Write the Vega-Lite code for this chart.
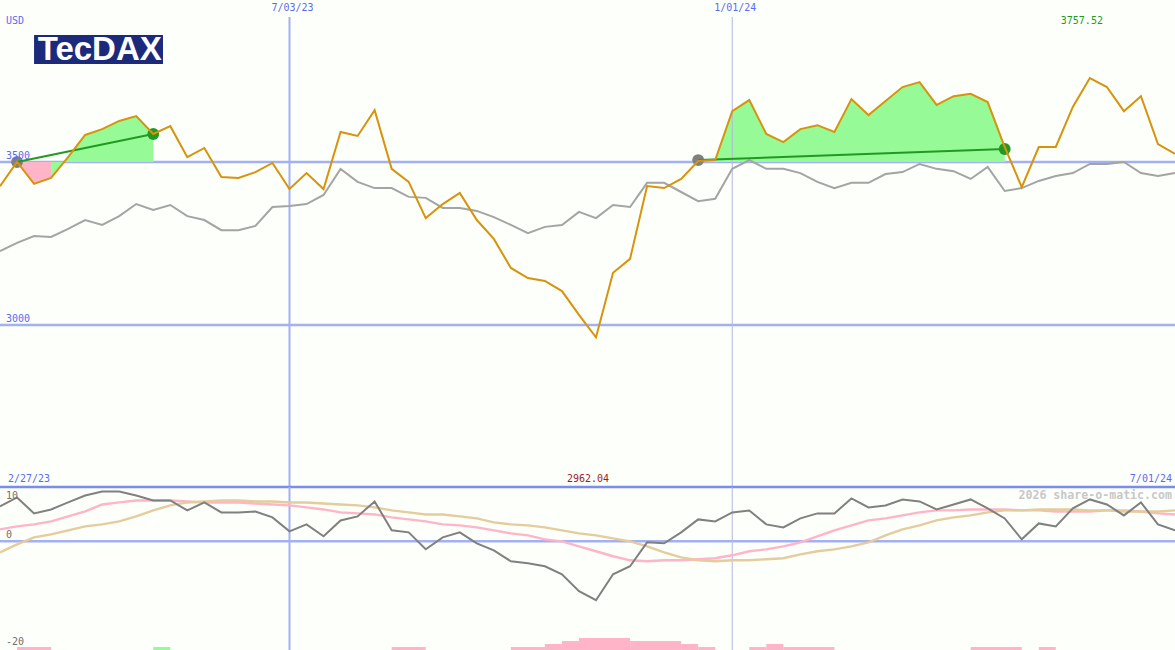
{"$schema":"https://vega.github.io/schema/vega-lite/v6.json","padding":{"left":-2,"top":0,"right":0,"bottom":0},"background":"#fdfffb","spacing":0,"bounds":"flush","config":{"view":{"stroke":null},"font":"DejaVu Sans Mono"},
"datasets":{"weekly":[
{"date":"2023-03-06","close":3426,"benchmark":3227,"macd":6.42,"signal":2.2,"average":-2.02},
{"date":"2023-03-13","close":3500,"benchmark":3252,"macd":8.07,"signal":2.75,"average":-0.55},
{"date":"2023-03-20","close":3433,"benchmark":3273,"macd":5.14,"signal":3.12,"average":0.73},
{"date":"2023-03-27","close":3451,"benchmark":3270,"macd":5.87,"signal":3.67,"average":1.28},
{"date":"2023-04-03","close":3515,"benchmark":3295,"macd":7.16,"signal":4.59,"average":2.02},
{"date":"2023-04-10","close":3583,"benchmark":3322,"macd":8.44,"signal":5.5,"average":2.75},
{"date":"2023-04-17","close":3601,"benchmark":3307,"macd":9.17,"signal":6.79,"average":3.12},
{"date":"2023-04-24","close":3626,"benchmark":3334,"macd":9.17,"signal":7.16,"average":3.67},
{"date":"2023-05-01","close":3641,"benchmark":3371,"macd":8.44,"signal":7.52,"average":4.59},
{"date":"2023-05-08","close":3586,"benchmark":3353,"macd":7.52,"signal":7.52,"average":5.69},
{"date":"2023-05-15","close":3610,"benchmark":3368,"macd":7.52,"signal":7.52,"average":6.61},
{"date":"2023-05-22","close":3515,"benchmark":3334,"macd":5.69,"signal":7.34,"average":7.16},
{"date":"2023-05-29","close":3543,"benchmark":3322,"macd":7.16,"signal":7.16,"average":7.34},
{"date":"2023-06-05","close":3454,"benchmark":3291,"macd":5.32,"signal":7.16,"average":7.52},
{"date":"2023-06-12","close":3451,"benchmark":3291,"macd":5.32,"signal":7.16,"average":7.52},
{"date":"2023-06-19","close":3469,"benchmark":3304,"macd":5.5,"signal":6.97,"average":7.34},
{"date":"2023-06-26","close":3497,"benchmark":3362,"macd":4.4,"signal":6.79,"average":7.34},
{"date":"2023-07-03","close":3417,"benchmark":3365,"macd":1.83,"signal":6.61,"average":7.16},
{"date":"2023-07-10","close":3466,"benchmark":3371,"macd":3.12,"signal":6.24,"average":7.16},
{"date":"2023-07-17","close":3417,"benchmark":3399,"macd":0.92,"signal":5.87,"average":6.97},
{"date":"2023-07-24","close":3592,"benchmark":3479,"macd":3.85,"signal":5.32,"average":6.79},
{"date":"2023-07-31","close":3580,"benchmark":3439,"macd":4.59,"signal":5.14,"average":6.61},
{"date":"2023-08-07","close":3659,"benchmark":3420,"macd":7.34,"signal":4.95,"average":6.24},
{"date":"2023-08-14","close":3479,"benchmark":3420,"macd":2.02,"signal":4.4,"average":5.69},
{"date":"2023-08-21","close":3439,"benchmark":3393,"macd":1.65,"signal":4.04,"average":5.32},
{"date":"2023-08-28","close":3328,"benchmark":3390,"macd":-1.47,"signal":3.67,"average":4.95},
{"date":"2023-09-04","close":3371,"benchmark":3359,"macd":0.73,"signal":3.12,"average":4.95},
{"date":"2023-09-11","close":3405,"benchmark":3359,"macd":1.65,"signal":2.94,"average":4.59},
{"date":"2023-09-18","close":3322,"benchmark":3350,"macd":-0.37,"signal":2.57,"average":4.22},
{"date":"2023-09-25","close":3264,"benchmark":3331,"macd":-1.65,"signal":2.02,"average":3.49},
{"date":"2023-10-02","close":3175,"benchmark":3307,"macd":-3.67,"signal":1.47,"average":3.12},
{"date":"2023-10-09","close":3144,"benchmark":3282,"macd":-4.04,"signal":1.1,"average":2.94},
{"date":"2023-10-16","close":3135,"benchmark":3301,"macd":-4.59,"signal":0.37,"average":2.57},
{"date":"2023-10-23","close":3104,"benchmark":3307,"macd":-6.06,"signal":0,"average":2.02},
{"date":"2023-10-30","close":3031,"benchmark":3347,"macd":-9.17,"signal":-0.92,"average":1.47},
{"date":"2023-11-06","close":2962.04,"benchmark":3328,"macd":-10.83,"signal":-1.83,"average":1.1},
{"date":"2023-11-13","close":3160,"benchmark":3368,"macd":-6.06,"signal":-2.75,"average":0.55},
{"date":"2023-11-20","close":3203,"benchmark":3362,"macd":-4.59,"signal":-3.49,"average":0},
{"date":"2023-11-27","close":3426,"benchmark":3436,"macd":-0.18,"signal":-3.67,"average":-0.92},
{"date":"2023-12-04","close":3420,"benchmark":3436,"macd":-0.37,"signal":-3.49,"average":-2.02},
{"date":"2023-12-11","close":3448,"benchmark":3408,"macd":1.65,"signal":-3.49,"average":-2.94},
{"date":"2023-12-18","close":3503,"benchmark":3380,"macd":4.04,"signal":-3.3,"average":-3.49},
{"date":"2023-12-25","close":3506,"benchmark":3387,"macd":3.67,"signal":-3.12,"average":-3.67},
{"date":"2024-01-01","close":3656,"benchmark":3479,"macd":5.32,"signal":-2.57,"average":-3.49},
{"date":"2024-01-08","close":3690,"benchmark":3506,"macd":5.69,"signal":-1.83,"average":-3.49},
{"date":"2024-01-15","close":3586,"benchmark":3479,"macd":3.12,"signal":-1.47,"average":-3.3},
{"date":"2024-01-22","close":3561,"benchmark":3479,"macd":2.57,"signal":-0.92,"average":-3.12},
{"date":"2024-01-29","close":3601,"benchmark":3466,"macd":4.22,"signal":-0.18,"average":-2.39},
{"date":"2024-02-05","close":3613,"benchmark":3439,"macd":5.14,"signal":0.92,"average":-1.83},
{"date":"2024-02-12","close":3592,"benchmark":3420,"macd":5.14,"signal":2.02,"average":-1.47},
{"date":"2024-02-19","close":3693,"benchmark":3436,"macd":7.89,"signal":2.94,"average":-0.92},
{"date":"2024-02-26","close":3644,"benchmark":3436,"macd":6.24,"signal":3.85,"average":-0.18},
{"date":"2024-03-04","close":3687,"benchmark":3463,"macd":6.61,"signal":4.22,"average":1.1},
{"date":"2024-03-11","close":3730,"benchmark":3469,"macd":7.71,"signal":4.77,"average":2.2},
{"date":"2024-03-18","close":3745,"benchmark":3494,"macd":7.34,"signal":5.32,"average":2.94},
{"date":"2024-03-25","close":3675,"benchmark":3479,"macd":5.87,"signal":5.69,"average":3.85},
{"date":"2024-04-01","close":3702,"benchmark":3472,"macd":6.79,"signal":5.69,"average":4.4},
{"date":"2024-04-08","close":3709,"benchmark":3448,"macd":7.71,"signal":5.87,"average":4.77},
{"date":"2024-04-15","close":3684,"benchmark":3485,"macd":6.06,"signal":5.87,"average":5.32},
{"date":"2024-04-22","close":3546,"benchmark":3411,"macd":4.22,"signal":5.87,"average":5.69},
{"date":"2024-04-29","close":3423,"benchmark":3420,"macd":0.37,"signal":5.69,"average":5.69},
{"date":"2024-05-06","close":3546,"benchmark":3442,"macd":3.3,"signal":5.69,"average":5.87},
{"date":"2024-05-13","close":3546,"benchmark":3457,"macd":2.75,"signal":5.5,"average":5.87},
{"date":"2024-05-20","close":3669,"benchmark":3466,"macd":6.06,"signal":5.5,"average":5.87},
{"date":"2024-05-27","close":3757.52,"benchmark":3494,"macd":7.71,"signal":5.5,"average":5.69},
{"date":"2024-06-03","close":3730,"benchmark":3494,"macd":6.79,"signal":5.69,"average":5.69},
{"date":"2024-06-10","close":3656,"benchmark":3500,"macd":4.77,"signal":5.69,"average":5.5},
{"date":"2024-06-17","close":3702,"benchmark":3466,"macd":7.16,"signal":5.5,"average":5.5},
{"date":"2024-06-24","close":3555,"benchmark":3457,"macd":3.12,"signal":5.14,"average":5.5},
{"date":"2024-07-01","close":3525,"benchmark":3466,"macd":2.02,"signal":4.95,"average":5.69}
],
"fills":[
{"date":"2023-03-13","close":3500,"kind":"loss","run":"a"},
{"date":"2023-03-20","close":3433,"kind":"loss","run":"a"},
{"date":"2023-03-27","close":3451,"kind":"loss","run":"a"},
{"date":"2023-03-27","close":3451,"kind":"gain","run":"b"},
{"date":"2023-04-03","close":3515,"kind":"gain","run":"b"},
{"date":"2023-04-10","close":3583,"kind":"gain","run":"b"},
{"date":"2023-04-17","close":3601,"kind":"gain","run":"b"},
{"date":"2023-04-24","close":3626,"kind":"gain","run":"b"},
{"date":"2023-05-01","close":3641,"kind":"gain","run":"b"},
{"date":"2023-05-08","close":3586,"kind":"gain","run":"b"},
{"date":"2023-12-18","close":3503,"kind":"gain","run":"c"},
{"date":"2023-12-25","close":3506,"kind":"gain","run":"c"},
{"date":"2024-01-01","close":3656,"kind":"gain","run":"c"},
{"date":"2024-01-08","close":3690,"kind":"gain","run":"c"},
{"date":"2024-01-15","close":3586,"kind":"gain","run":"c"},
{"date":"2024-01-22","close":3561,"kind":"gain","run":"c"},
{"date":"2024-01-29","close":3601,"kind":"gain","run":"c"},
{"date":"2024-02-05","close":3613,"kind":"gain","run":"c"},
{"date":"2024-02-12","close":3592,"kind":"gain","run":"c"},
{"date":"2024-02-19","close":3693,"kind":"gain","run":"c"},
{"date":"2024-02-26","close":3644,"kind":"gain","run":"c"},
{"date":"2024-03-04","close":3687,"kind":"gain","run":"c"},
{"date":"2024-03-11","close":3730,"kind":"gain","run":"c"},
{"date":"2024-03-18","close":3745,"kind":"gain","run":"c"},
{"date":"2024-03-25","close":3675,"kind":"gain","run":"c"},
{"date":"2024-04-01","close":3702,"kind":"gain","run":"c"},
{"date":"2024-04-08","close":3709,"kind":"gain","run":"c"},
{"date":"2024-04-15","close":3684,"kind":"gain","run":"c"},
{"date":"2024-04-22","close":3546,"kind":"gain","run":"c"}
],
"trades":[
{"date":"2023-03-13","price":3500,"trade":"t1","leg":"entry"},
{"date":"2023-05-08","price":3586,"trade":"t1","leg":"exit"},
{"date":"2023-12-18","price":3506,"trade":"t2","leg":"entry"},
{"date":"2024-04-22","price":3540,"trade":"t2","leg":"exit"}
],
"hist":[
{"start":"2023-03-13","end":"2023-03-27","level":-19.45,"kind":"loss"},
{"start":"2023-05-08","end":"2023-05-15","level":-19.45,"kind":"gain"},
{"start":"2023-08-14","end":"2023-08-28","level":-19.45,"kind":"loss"},
{"start":"2023-10-02","end":"2023-10-16","level":-19.45,"kind":"loss"},
{"start":"2023-10-16","end":"2023-10-23","level":-18.9,"kind":"loss"},
{"start":"2023-10-23","end":"2023-10-30","level":-18.35,"kind":"loss"},
{"start":"2023-10-30","end":"2023-11-20","level":-17.8,"kind":"loss"},
{"start":"2023-11-20","end":"2023-12-11","level":-18.35,"kind":"loss"},
{"start":"2023-12-11","end":"2023-12-18","level":-18.9,"kind":"loss"},
{"start":"2023-12-18","end":"2023-12-25","level":-19.45,"kind":"loss"},
{"start":"2024-01-08","end":"2024-01-15","level":-19.45,"kind":"loss"},
{"start":"2024-01-15","end":"2024-01-22","level":-18.9,"kind":"loss"},
{"start":"2024-01-22","end":"2024-02-12","level":-19.45,"kind":"loss"},
{"start":"2024-04-08","end":"2024-04-29","level":-19.45,"kind":"loss"},
{"start":"2024-05-06","end":"2024-05-13","level":-19.45,"kind":"loss"}
],
"verticals":[{"date":"2023-07-03","label":"7/03/23","kind":"major"},{"date":"2024-01-01","label":"1/01/24","kind":"minor"}]
},
"vconcat":[
{"width":1175,"height":487,"layer":[
{"data":{"values":[{"price":3500},{"price":3000}]},"mark":{"type":"rule","color":"#a3b0f2","strokeWidth":2.5},"encoding":{"y":{"field":"price","type":"quantitative","axis":null,"scale":{"domain":[2503,3997],"zero":false,"nice":false}}}},
{"data":{"name":"fills"},"mark":{"type":"area","opacity":1},"encoding":{"x":{"field":"date","type":"temporal","axis":null,"scale":{"type":"utc","domain":[{"year":2023,"month":3,"date":6,"utc":true},{"year":2024,"month":7,"date":1,"utc":true}],"nice":false}},"y":{"field":"close","type":"quantitative","stack":null},"y2":{"datum":3500},"color":{"field":"kind","type":"nominal","legend":null,"scale":{"domain":["gain","loss"],"range":["#96fb96","#ffb4c8"]}},"detail":{"field":"run"}}},
{"data":{"name":"verticals"},"transform":[{"filter":"datum.kind=='major'"}],"mark":{"type":"rule","color":"#a3b0f2","strokeWidth":2},"encoding":{"x":{"field":"date","type":"temporal"},"y":{"datum":3945},"y2":{"datum":2503}}},
{"data":{"name":"verticals"},"transform":[{"filter":"datum.kind=='minor'"}],"mark":{"type":"rule","color":"#b2b8dc","strokeWidth":1},"encoding":{"x":{"field":"date","type":"temporal"},"y":{"datum":3945},"y2":{"datum":2503}}},
{"data":{"name":"weekly"},"mark":{"type":"line","color":"#a4a4a4","strokeWidth":2,"clip":true},"encoding":{"x":{"field":"date","type":"temporal"},"y":{"field":"benchmark","type":"quantitative"}}},
{"data":{"name":"trades"},"mark":{"type":"point","filled":true,"opacity":1,"shape":"circle","size":140},"encoding":{"x":{"field":"date","type":"temporal"},"y":{"field":"price","type":"quantitative"},"color":{"field":"leg","type":"nominal","legend":null,"scale":{"domain":["entry","exit"],"range":["#808080","#229922"]}}}},
{"data":{"name":"trades"},"mark":{"type":"line","color":"#229922","strokeWidth":2},"encoding":{"x":{"field":"date","type":"temporal"},"y":{"field":"price","type":"quantitative"},"detail":{"field":"trade"}}},
{"data":{"name":"weekly"},"mark":{"type":"line","color":"#d8930c","strokeWidth":2,"clip":true},"encoding":{"x":{"field":"date","type":"temporal"},"y":{"field":"close","type":"quantitative"}}},
{"data":{"values":[{"start":"2023-03-20","end":"2023-05-12","top":3890,"bottom":3801}]},"mark":{"type":"rect","color":"#1c2a7c"},"encoding":{"x":{"field":"start","type":"temporal"},"x2":{"field":"end"},"y":{"field":"top","type":"quantitative"},"y2":{"field":"bottom"}}},
{"data":{"values":[{"date":"2023-04-16","price":3845,"text":"TecDAX"}]},"mark":{"type":"text","font":"Liberation Sans","fontWeight":"bold","fontSize":33,"color":"#ffffff","align":"center","baseline":"middle"},"encoding":{"x":{"field":"date","type":"temporal"},"y":{"field":"price","type":"quantitative"},"text":{"field":"text"}}},
{"data":{"values":[{"date":"2023-03-06","price":3500,"text":"3500"},{"date":"2023-03-06","price":3000,"text":"3000"}]},"mark":{"type":"text","fontSize":10,"color":"#5b6cf0","align":"left","baseline":"middle","dx":6,"dy":-6},"encoding":{"x":{"field":"date","type":"temporal"},"y":{"field":"price","type":"quantitative"},"text":{"field":"text"}}},
{"data":{"values":[{"date":"2023-03-06","price":3932,"text":"USD"}]},"mark":{"type":"text","fontSize":10,"color":"#5b6cf0","align":"left","baseline":"middle","dx":6},"encoding":{"x":{"field":"date","type":"temporal"},"y":{"field":"price","type":"quantitative"},"text":{"field":"text"}}},
{"data":{"values":[{"date":"2023-03-06","price":2528,"text":"2/27/23"}]},"mark":{"type":"text","fontSize":10,"color":"#5b6cf0","align":"left","baseline":"middle","dx":8},"encoding":{"x":{"field":"date","type":"temporal"},"y":{"field":"price","type":"quantitative"},"text":{"field":"text"}}},
{"data":{"values":[{"date":"2024-07-01","price":2528,"text":"7/01/24"}]},"mark":{"type":"text","fontSize":10,"color":"#5b6cf0","align":"right","baseline":"middle","dx":-3},"encoding":{"x":{"field":"date","type":"temporal"},"y":{"field":"price","type":"quantitative"},"text":{"field":"text"}}},
{"data":{"name":"verticals"},"mark":{"type":"text","fontSize":10,"color":"#5b6cf0","align":"center","baseline":"middle","dx":3},"encoding":{"x":{"field":"date","type":"temporal"},"y":{"datum":3972},"text":{"field":"label"}}},
{"data":{"values":[{"date":"2024-05-27","price":3932,"text":"3757.52","extreme":"high"},{"date":"2023-11-06","price":2528,"text":"2962.04","extreme":"low"}]},"mark":{"type":"text","fontSize":10,"align":"center","baseline":"middle","dx":-8},"encoding":{"x":{"field":"date","type":"temporal"},"y":{"field":"price","type":"quantitative"},"text":{"field":"text"},"color":{"field":"extreme","type":"nominal","legend":null,"scale":{"domain":["high","low"],"range":["#229922","#a01c1c"]}}}}
],"resolve":{"scale":{"color":"independent"}}},
{"width":1175,"height":163,"layer":[
{"data":{"values":[{"osc":0}]},"mark":{"type":"rule","color":"#a3b0f2","strokeWidth":2.5},"encoding":{"y":{"field":"osc","type":"quantitative","axis":null,"scale":{"domain":[-20,10],"zero":false,"nice":false}}}},
{"data":{"values":[{"osc":10}]},"mark":{"type":"rule","color":"#7b8cf0","strokeWidth":2.5},"encoding":{"y":{"field":"osc","type":"quantitative"}}},
{"data":{"name":"hist"},"mark":{"type":"rect"},"encoding":{"x":{"field":"start","type":"temporal","axis":null,"scale":{"type":"utc","domain":[{"year":2023,"month":3,"date":6,"utc":true},{"year":2024,"month":7,"date":1,"utc":true}],"nice":false}},"x2":{"field":"end"},"y":{"field":"level","type":"quantitative"},"y2":{"datum":-20},"color":{"field":"kind","type":"nominal","legend":null,"scale":{"domain":["gain","loss"],"range":["#96fb96","#ffb4c8"]}}}},
{"data":{"name":"verticals"},"transform":[{"filter":"datum.kind=='major'"}],"mark":{"type":"rule","color":"#a3b0f2","strokeWidth":2},"encoding":{"x":{"field":"date","type":"temporal"},"y":{"datum":10},"y2":{"datum":-20}}},
{"data":{"name":"verticals"},"transform":[{"filter":"datum.kind=='minor'"}],"mark":{"type":"rule","color":"#b2b8dc","strokeWidth":1},"encoding":{"x":{"field":"date","type":"temporal"},"y":{"datum":10},"y2":{"datum":-20}}},
{"data":{"values":[{"date":"2024-07-01","osc":8.35,"text":"2026 share-o-matic.com"}]},"mark":{"type":"text","fontSize":11.6,"fontWeight":"bold","color":"#c8c8c8","align":"right","baseline":"middle","dx":-3},"encoding":{"x":{"field":"date","type":"temporal"},"y":{"field":"osc","type":"quantitative"},"text":{"field":"text"}}},
{"data":{"name":"weekly"},"mark":{"type":"line","color":"#ffb4c8","strokeWidth":2.4,"clip":true},"encoding":{"x":{"field":"date","type":"temporal"},"y":{"field":"signal","type":"quantitative"}}},
{"data":{"name":"weekly"},"mark":{"type":"line","color":"#e4cc9c","strokeWidth":2.4,"clip":true},"encoding":{"x":{"field":"date","type":"temporal"},"y":{"field":"average","type":"quantitative"}}},
{"data":{"name":"weekly"},"mark":{"type":"line","color":"#808080","strokeWidth":2,"clip":true},"encoding":{"x":{"field":"date","type":"temporal"},"y":{"field":"macd","type":"quantitative"}}},
{"data":{"values":[{"date":"2023-03-06","osc":8.35,"text":"10"},{"date":"2023-03-06","osc":1.1,"text":"0"},{"date":"2023-03-06","osc":-18.53,"text":"-20"}]},"mark":{"type":"text","fontSize":10,"color":"#707070","align":"left","baseline":"middle","dx":6},"encoding":{"x":{"field":"date","type":"temporal"},"y":{"field":"osc","type":"quantitative"},"text":{"field":"text"}}}
]}
]}
